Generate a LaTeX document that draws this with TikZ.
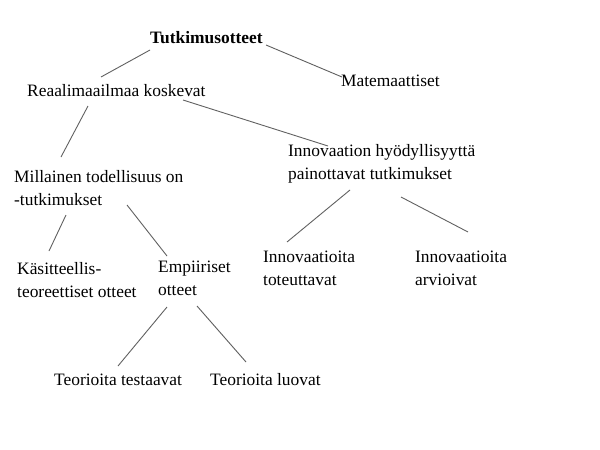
\documentclass[tikz,border=0pt]{standalone}
\usepackage{fontspec}
\setmainfont{Liberation Serif}
\begin{document}
\begin{tikzpicture}[x=1pt,y=-1pt,
  lbl/.style={anchor=west,inner sep=0pt,align=left,font=\fontsize{17.4}{23}\selectfont},
  link/.style={draw=black!62,line width=0.9pt}]
\useasboundingbox (0,0) rectangle (600,450);
\fill[white] (0,0) rectangle (600,450);
% nodes
\node[lbl,font=\fontsize{17.4}{23}\selectfont\bfseries] (root) at (150,38) {Tutkimusotteet};
\node[lbl] (mat) at (341,81) {Matemaattiset};
\node[lbl] (real) at (27,91) {Reaalimaailmaa koskevat};
\node[lbl] (inno) at (288,163.5) {Innovaation hyödyllisyyttä\\painottavat tutkimukset};
\node[lbl] (mill) at (14,188.5) {Millainen todellisuus on\\-tutkimukset};
\node[lbl] (kas) at (17,280.5) {Käsitteellis-\\teoreettiset otteet};
\node[lbl] (emp) at (158,278) {Empiiriset\\otteet};
\node[lbl] (tot) at (263,268) {Innovaatioita\\toteuttavat};
\node[lbl] (arv) at (415,268) {Innovaatioita\\arvioivat};
\node[lbl] (tes) at (54,380) {Teorioita testaavat};
\node[lbl] (luo) at (210,380) {Teorioita luovat};
% connector end points
\coordinate (root-a) at (150,50);  \coordinate (real-a) at (101,77);
\coordinate (root-b) at (266,45);  \coordinate (mat-a) at (342,77);
\coordinate (real-b) at (88,106);  \coordinate (mill-a) at (61,157);
\coordinate (real-c) at (183,100); \coordinate (inno-a) at (328,146);
\coordinate (inno-b) at (350,190); \coordinate (tot-a) at (287,242);
\coordinate (inno-c) at (401,197); \coordinate (arv-a) at (468,232);
\coordinate (mill-b) at (66,215);  \coordinate (kas-a) at (49,251);
\coordinate (mill-c) at (127,205); \coordinate (emp-a) at (167,256);
\coordinate (emp-b) at (167,307);  \coordinate (tes-a) at (118,366);
\coordinate (emp-c) at (197,306);  \coordinate (luo-a) at (246,362);
% connectors
\draw[link] (root-a) -- (real-a);
\draw[link] (root-b) -- (mat-a);
\draw[link] (real-b) -- (mill-a);
\draw[link] (real-c) -- (inno-a);
\draw[link] (inno-b) -- (tot-a);
\draw[link] (inno-c) -- (arv-a);
\draw[link] (mill-b) -- (kas-a);
\draw[link] (mill-c) -- (emp-a);
\draw[link] (emp-b) -- (tes-a);
\draw[link] (emp-c) -- (luo-a);
\end{tikzpicture}
\end{document}
